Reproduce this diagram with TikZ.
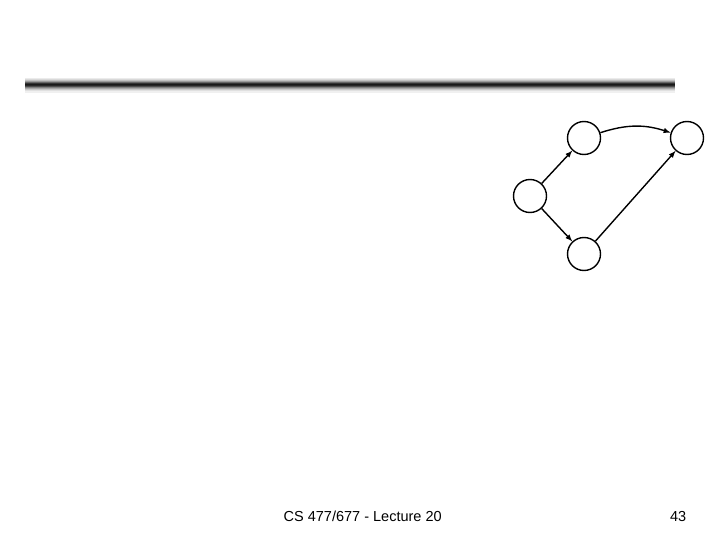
\documentclass[tikz,border=0pt]{standalone}
\usepackage{fontspec}
\setmainfont{Liberation Sans}
\usetikzlibrary {positioning}

\begin{document}
\begin{tikzpicture}[x=1pt, y=-1pt, -latex ,auto ,
      inner sep=0pt, minimum size=33pt,
      line width=1.4pt, vertex/.style={circle, draw, line width=1.4pt},
      footer/.style={anchor=base west, font=\fontsize{14.5}{17}\selectfont}]
      \useasboundingbox (0,0) rectangle (720,540);
      % title bar
      \foreach \dy/\g in {79/8, 80/15, 81/25, 82/40, 83/60, 84/80, 85/90,
                          86/85, 87/70, 88/50, 89/35, 90/22, 91/12, 92/6}
        \draw[-, line width=1.05pt, black!\g] (25,\dy) -- (675,\dy);
      % a, b, c, d;
      \node[vertex](a) at(530,196) {};
      \node[vertex](b) at(584,138) {};
      \path (a) edge (b);
      \node[vertex](c) at(584,254) {};
      \path (a) edge (c);
      \node[vertex](d) at(687,138) {};
      \path (b) edge [bend left=18] (d);
      \path (c) edge (d);
      % footer
      \node[footer] (lect) at(283,521) {CS 477/677 - Lecture 20};
      \node[footer] (page) at(661,521) {43};
  \end{tikzpicture}
\end{document}
